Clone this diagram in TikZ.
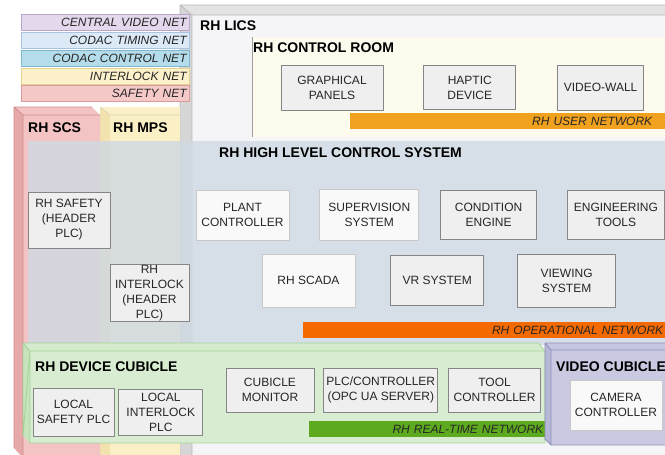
\documentclass[tikz,border=0pt]{standalone}
\usepackage{fontspec}
\setmainfont{Liberation Sans}
\usepackage{tikz}
\usetikzlibrary{positioning}

\definecolor{licsfront}{HTML}{F5F5F7}
\definecolor{licstop}{HTML}{E3E3E3}
\definecolor{licsside}{HTML}{D6D6D6}
\definecolor{licsline}{HTML}{B8B8B8}
\definecolor{roomfill}{HTML}{FDFAEE}
\definecolor{hlcsfill}{HTML}{CFD9E3}
\definecolor{scsfill}{HTML}{F4C4C4}
\definecolor{scsside}{HTML}{E6A8A8}
\definecolor{scsline}{HTML}{D08C8C}
\definecolor{mpsfill}{HTML}{FBEFC6}
\definecolor{mpsside}{HTML}{F1E2AE}
\definecolor{cubfill}{HTML}{D8ECD1}
\definecolor{cubside}{HTML}{C6E3BC}
\definecolor{cubline}{HTML}{A3D396}
\definecolor{vidfill}{HTML}{C9C9E2}
\definecolor{vidside}{HTML}{B6B6D6}
\definecolor{vidline}{HTML}{8E8EB8}
\definecolor{unitfill}{HTML}{EFEFEF}
\definecolor{unitline}{HTML}{858585}
\definecolor{netviolet}{HTML}{E4D8EC}
\definecolor{netvioletl}{HTML}{B9A5CB}
\definecolor{netsky}{HTML}{DCE9F7}
\definecolor{netskyl}{HTML}{A9C3E0}
\definecolor{netcyan}{HTML}{B5DCEA}
\definecolor{netcyanl}{HTML}{7FB8CC}
\definecolor{netyellow}{HTML}{FCF1CA}
\definecolor{netyellowl}{HTML}{E4D38E}
\definecolor{netpink}{HTML}{F6C9C9}
\definecolor{netpinkl}{HTML}{D99A9A}
\definecolor{useror}{HTML}{F0A11E}
\definecolor{opor}{HTML}{F56A00}
\definecolor{rtgreen}{HTML}{5DAA1F}
\definecolor{lantext}{HTML}{262626}

\newcommand{\unitfont}{\fontsize{12}{15}\selectfont}
\newcommand{\headfont}{\fontsize{14}{16}\selectfont\bfseries}
\newcommand{\netfont}{\fontsize{12}{14}\selectfont\itshape}

\tikzset{
	unit/.style={draw=unitline, fill=unitfill, line width=.8pt, font=\unitfont,
		align=center, inner sep=1pt, text=black!85},
	unit pale/.style={unit, draw=unitline!45, fill=white!60!unitfill},
	unit size/.style 2 args={minimum width=#1, minimum height=#2},
	netbar/.style 2 args={fill=#1, draw=#2, line width=.8pt, anchor=north east,
		minimum height=16, text width=162, inner xsep=3pt, inner ysep=0pt,
		align=right, font=\netfont, text=lantext},
	lan/.style={fill=#1, anchor=north west, minimum height=15.5, inner ysep=0pt,
		align=right, font=\netfont, text=lantext},
	head/.style={anchor=west, font=\headfont, inner sep=0pt},
	face/.style={fill=#1, draw=none}
}

\begin{document}
\begin{tikzpicture}[x=1pt, y=-1pt, line join=round]
   \useasboundingbox (0,0) rectangle (665,455);
   \clip (0,0) rectangle (665,455);
   \fill[white] (0,0) rectangle (665,455);

   % RH LICS
   \fill[face=licstop] (180,5) -- (668,5) -- (668,15) -- (192,15) -- cycle;
   \fill[face=licsside] (180,5) -- (192,15) -- (192,458) -- (180,458) -- cycle;
   \fill[face=licsfront] (192,15) rectangle (668,458);
   \draw[licsline, line width=.8pt] (180,5) -- (668,5) (180,5) -- (192,15) -- (668,15)
      (192,15) -- (192,458) (180,5) -- (180,458);
   \node[head] (lics) at (200,26) {RH LICS};

   % nets
   \node[netbar={netviolet}{netvioletl}] (videonet) at (190,14) {CENTRAL VIDEO NET};
   \node[netbar={netsky}{netskyl}] (timingnet) at (190,32) {CODAC TIMING NET};
   \node[netbar={netcyan}{netcyanl}] (controlnet) at (190,50) {CODAC CONTROL NET};
   \node[netbar={netyellow}{netyellowl}] (interlocknet) at (190,67.5) {INTERLOCK NET};
   \node[netbar={netpink}{netpinkl}] (safetynet) at (190,85) {SAFETY NET};

   % RH CONTROL ROOM
   \fill[roomfill] (252,37) rectangle (668,137);
   \draw[unitline!80, line width=.8pt] (252,37) -- (252,137);
   \node[head] (room) at (253,48) {RH CONTROL ROOM};
   \node[unit, unit size={102}{45}] (panels) at (332,87.5) {GRAPHICAL\\PANELS};
   \node[unit, unit size={92}{44}, right=40pt of panels] (haptic) {HAPTIC\\DEVICE};
   \node[unit, unit size={86}{45}, right=41pt of haptic] (wall) {VIDEO-WALL};
   \node[lan=useror, text width=289, inner xsep=13pt] (usernet) at (350,113) {RH USER NETWORK};

   % RH MPS / RH SCS
   \fill[face=mpsside] (100,107) -- (110,115) -- (110,458) -- (100,458) -- cycle;
   \fill[face=mpsfill] (100,107) -- (180,107) -- (180,458) -- (110,458) -- (110,115) -- cycle;
   \draw[mpsside!80!black!60, line width=.6pt] (100,107) -- (110,115) -- (180,115);
   \fill[face=scsside] (14,107) -- (23,115) -- (23,458) -- (14,448) -- cycle;
   \fill[face=scsfill] (14,107) -- (92,107) -- (100,115) -- (100,458) -- (23,458) -- (23,115) -- cycle;
   \draw[scsline, line width=.8pt] (14,448) -- (14,107) -- (23,115) -- (100,115)
      (23,115) -- (23,458) (14,107) -- (92,107);
   \node[head] (scs) at (28,128) {RH SCS};
   \node[head] (mps) at (113,128) {RH MPS};

   % RH HIGH LEVEL CONTROL SYSTEM
   \fill[hlcsfill, fill opacity=.8] (28,141) rectangle (668,345);
   \node[head] (hlcs) at (219,153) {RH HIGH LEVEL CONTROL SYSTEM};
   \node[unit, unit size={82}{56}] (safetyhead) at (69,220) {RH SAFETY\\(HEADER\\PLC)};
   \node[unit, unit size={79}{56}] (interlockhead) at (149.5,293) {RH\\INTERLOCK\\(HEADER\\PLC)};
   \node[unit pale, unit size={93}{50}] (plant) at (242.5,215) {PLANT\\CONTROLLER};
   \node[unit pale, unit size={99}{51}, right=30pt of plant] (superv) {SUPERVISION\\SYSTEM};
   \node[unit, unit size={96}{49}, right=21pt of superv] (condition) {CONDITION\\ENGINE};
   \node[unit, unit size={97}{49}, right=30pt of condition] (engtools) {ENGINEERING\\TOOLS};
   \node[unit pale, unit size={93}{53}] (scada) at (308.5,280.5) {RH SCADA};
   \node[unit, unit size={93}{50}, right=35pt of scada] (vrsys) {VR SYSTEM};
   \node[unit, unit size={98}{53}, right=33pt of vrsys] (viewing) {VIEWING\\SYSTEM};
   \node[lan=opor, text width=358, inner xsep=2pt] (opnet) at (303,322) {RH OPERATIONAL NETWORK};

   % RH DEVICE CUBICLE
   \fill[face=cubside] (23,343) -- (30,351) -- (30,443) -- (23,436) -- cycle;
   \fill[face=cubfill!85!cubside] (23,343) -- (538,343) -- (545,351) -- (30,351) -- cycle;
   \fill[face=cubfill] (30,351) rectangle (545,443);
   \draw[cubline, line width=.8pt] (23,436) -- (23,343) -- (538,343) -- (545,351) -- (30,351) -- cycle
      (30,351) -- (30,443) -- (545,443) -- (545,351) (23,343) -- (30,351);
   \node[head] (devcub) at (35,367) {RH DEVICE CUBICLE};
   \node[unit, unit size={81}{48}] (localsafety) at (73.5,412) {LOCAL\\SAFETY PLC};
   \node[unit, unit size={84}{46}, right=4pt of localsafety] (localinterlock) {LOCAL\\INTERLOCK\\PLC};
   \node[unit, unit size={88}{44}] (monitor) at (270,390) {CUBICLE\\MONITOR};
   \node[unit, unit size={114}{44}, right=9pt of monitor] (opcua) {PLC/CONTROLLER\\(OPC UA SERVER)};
   \node[unit, unit size={92}{44}, right=10pt of opcua] (toolctrl) {TOOL\\CONTROLLER};
   \node[lan=rtgreen, text width=232, inner xsep=2pt] (rtnet) at (309,421) {RH REAL-TIME NETWORK};

   % VIDEO CUBICLE
   \fill[face=vidside] (545,343) -- (551,350) -- (551,445) -- (545,439) -- cycle;
   \fill[face=vidfill!85!vidside] (545,343) -- (668,343) -- (668,350) -- (551,350) -- cycle;
   \fill[face=vidfill] (551,350) rectangle (668,445);
   \draw[vidline, line width=.8pt] (545,439) -- (545,343) -- (668,343)
      (545,343) -- (551,350) -- (668,350) (551,350) -- (551,445) -- (668,445) (545,439) -- (551,445);
   \node[head] (vidcub) at (556,367) {VIDEO CUBICLE};
   \node[unit pale, unit size={92}{50}] (camera) at (616,405) {CAMERA\\CONTROLLER};
\end{tikzpicture}
\end{document}
